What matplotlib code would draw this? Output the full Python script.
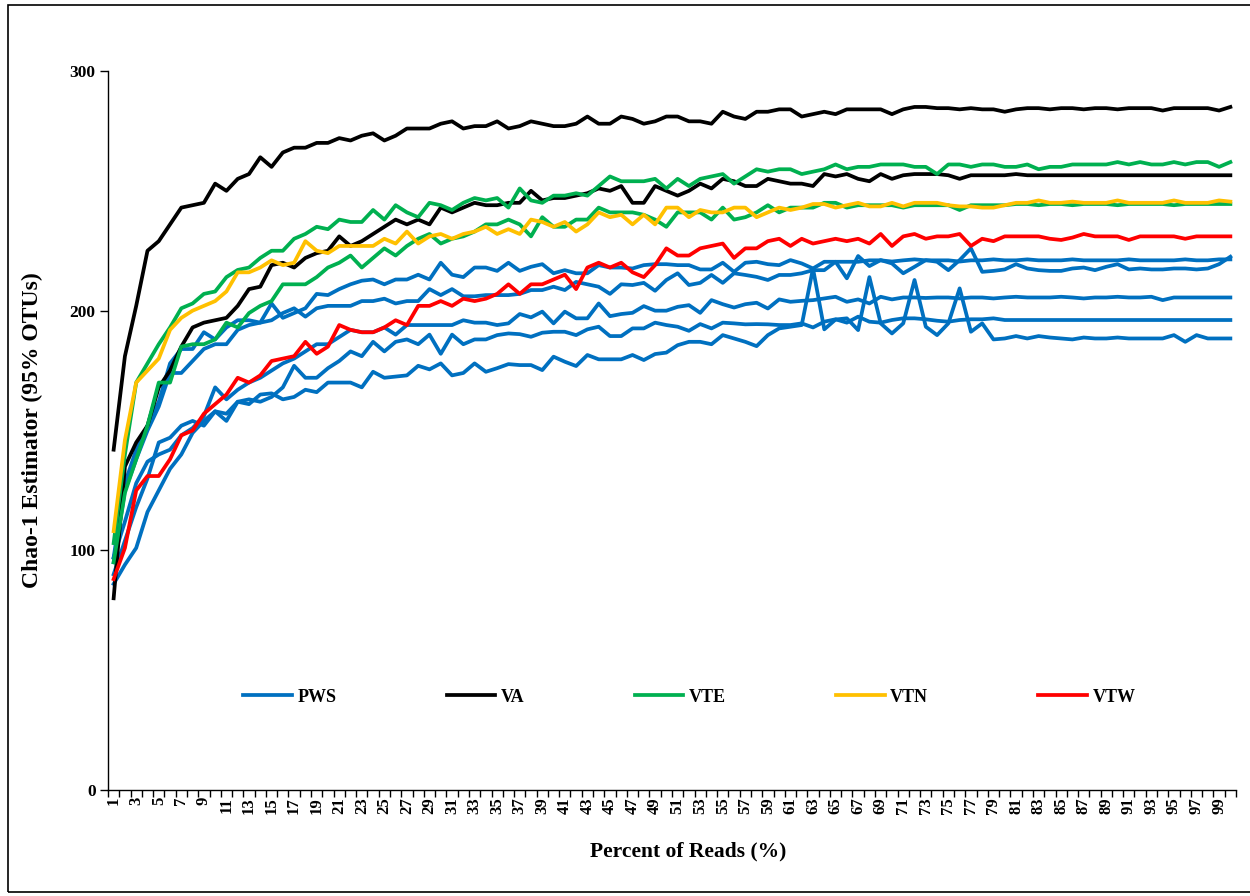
import matplotlib
matplotlib.use('Agg')
import matplotlib.pyplot as plt
import numpy as np
from matplotlib.patches import Rectangle

plt.rcParams['font.family'] = ['Liberation Serif', 'DejaVu Serif']
plt.rcParams['font.weight'] = 'bold'

# percent of reads (categories 1..100)
pct = list(range(1, 101))

# VA (black)
va_1 = [142, 181, 202, 225, 229, 236, 243, 244, 245, 253, 250, 255, 257, 264, 260, 266, 268, 268, 270, 270,
        272, 271, 273, 274, 271, 273, 276, 276, 276, 278, 279, 276, 277, 277, 279, 276, 277, 279, 278, 277,
        277, 278, 281, 278, 278, 281, 280, 278, 279, 281, 281, 279, 279, 278, 283, 281, 280, 283, 283, 284,
        284, 281, 282, 283, 282, 284, 284, 284, 284, 282, 284, 285, 285, 284.5, 284.5, 284, 284.5, 284, 284, 283,
        284, 284.5, 284.5, 284, 284.5, 284.5, 284, 284.5, 284.5, 284, 284.5, 284.5, 284.5, 283.5, 284.5, 284.5, 284.5, 284.5, 283.5, 285]
va_2 = [80, 135, 145, 152, 168, 175, 185, 193, 195, 196, 197, 202, 209, 210, 219, 220, 218, 222, 224, 225,
        231, 227, 229, 232, 235, 238, 236, 238, 236, 243, 241, 243, 245, 244, 244, 245, 245, 250, 246, 247,
        247, 248, 249, 251, 250, 252, 245, 245, 252, 250, 248, 250, 253, 251, 255, 254, 252, 252, 255, 254,
        253, 253, 252, 257, 256, 257, 255, 254, 257, 255, 256.5, 257, 257, 257, 256.5, 255, 256.5, 256.5, 256.5, 256.5,
        257, 256.5, 256.5, 256.5, 256.5, 256.5, 256.5, 256.5, 256.5, 256.5, 256.5, 256.5, 256.5, 256.5, 256.5, 256.5, 256.5, 256.5, 256.5, 256.5]

# VTE (green)
vte_1 = [103, 140, 170, 178, 186, 193, 201, 203, 207, 208, 214, 217, 218, 222, 225, 225, 230, 232, 235, 234,
         238, 237, 237, 242, 238, 244, 241, 239, 245, 244, 242, 245, 247, 246, 247, 243, 251, 246, 245, 248,
         248, 249, 248, 252, 256, 254, 254, 254, 255, 251, 255, 252, 255, 256, 257, 253, 256, 259, 258, 259,
         259, 257, 258, 259, 261, 259, 260, 260, 261, 261, 261, 260, 260, 257, 261, 261, 260, 261, 261, 260,
         260, 261, 259, 260, 260, 261, 261, 261, 261, 262, 261, 262, 261, 261, 262, 261, 262, 262, 260, 262]
vte_2 = [95, 124, 138, 152, 170, 170, 185, 186, 186, 188, 195, 193, 199, 202, 204, 211, 211, 211, 214, 218,
         220, 223, 218, 222, 226, 223, 227, 230, 232, 228, 230, 231, 233, 236, 236, 238, 236, 231, 239, 235,
         235, 238, 238, 243, 241, 241, 241, 240, 238, 235, 241, 241, 241, 238, 243, 238, 239, 241, 244, 241,
         243, 243, 243, 245, 245, 243, 244, 244, 244, 244, 243, 244, 244, 244, 244, 242, 244, 244, 244, 244,
         244.5, 244.5, 244, 244.5, 244.5, 244, 244.5, 244.5, 244.5, 244, 244.5, 244.5, 244.5, 244.5, 244, 244.5, 244.5, 244.5, 244.5, 244.5]

# VTN (yellow)
vtn_1 = [108, 146, 170, 175, 180, 192, 197, 200, 202, 204, 208, 216, 216, 218, 221, 219, 220, 229, 225, 224,
         227, 227, 227, 227, 230, 228, 233, 228, 231, 232, 230, 232, 233, 235, 232, 234, 232, 238, 237, 235,
         237, 233, 236, 241, 239, 240, 236, 240, 236, 243, 243, 239, 242, 241, 241, 243, 243, 239, 241, 243,
         242, 243, 244.5, 244.5, 243, 244, 245, 243.5, 243.5, 245, 243.5, 245, 245, 245, 244, 243.5, 243.5, 243, 243, 244,
         245, 245, 246, 245, 245, 245.5, 245, 245, 245, 246, 245, 245, 245, 245, 246, 245, 245, 245, 246, 245.5]

# VTW (red)
vtw_1 = [88, 101, 125, 131, 131, 138, 148, 150, 157, 161, 165, 172, 170, 173, 179, 180, 181, 187, 182, 185,
         194, 192, 191, 191, 193, 196, 194, 202, 202, 204, 202, 205, 204, 205, 207, 211, 207, 211, 211, 213,
         215, 209, 218, 220, 218, 220, 216, 214, 219, 226, 223, 223, 226, 227, 228, 222, 226, 226, 229, 230,
         227, 230, 228, 229, 230, 229, 230, 228, 232, 227, 231, 232, 230, 231, 231, 232, 227, 230, 229, 231,
         231, 231, 231, 230, 229.5, 230.5, 232, 231, 231, 231, 229.5, 231, 231, 231, 231, 230, 231, 231, 231, 231]

# PWS (blue)
pws_1 = [97, 128, 142, 152, 162, 178, 184, 184, 191, 188, 193, 196, 196, 195, 203, 197, 199, 201, 207, 206.5,
         209, 211, 212.5, 213, 211, 213, 213, 215, 213, 220, 215, 214, 218, 218, 216.6, 220, 216.6, 218.3, 219.4, 215.6,
         216.9, 215.6, 215.6, 219, 218, 218, 217.6, 219, 219.4, 219.4, 219, 219, 217.2, 217.2, 220, 216.2, 220, 220.4, 219.4, 219,
         221.1, 219.7, 217.6, 220.4, 220.4, 220.4, 220.4, 221, 221, 220.5, 221, 221.4, 221, 221, 221, 220.5, 221, 221, 221.4, 221,
         221, 221.4, 221, 221, 221, 221.4, 221, 221, 221, 221, 221.4, 221, 221, 221, 221, 221.4, 221, 221, 221.4, 221.4]
pws_2 = [95, 125, 138, 150, 160, 174, 174, 179, 184, 186, 186, 192, 194, 195, 196, 199, 201, 197.5, 201, 202,
         202, 202, 204, 204, 205, 203, 204, 204, 209, 206.5, 209, 206, 206, 206.5, 206.5, 206.5, 207, 208.6, 208.6, 210,
         208.6, 212, 211, 210, 207, 211, 210.7, 211.6, 208.3, 212.8, 215.6, 210.7, 211.6, 214.9, 211.6, 215.6, 214.9, 214.1, 212.8, 214.9,
         214.9, 215.6, 216.9, 216.9, 220.4, 213.5, 222.8, 218.6, 221.1, 219.7, 215.6, 218.3, 221.1, 220.4, 216.9, 221.1, 226, 216.2, 216.6, 217.2,
         219.4, 217.6, 216.9, 216.6, 216.6, 217.6, 218, 216.9, 218.3, 219.4, 217.2, 217.6, 217.2, 217.2, 217.6, 217.6, 217.2, 217.6, 219.4, 222.5]
pws_3 = [97, 112, 128, 137, 140, 142, 148, 151, 156, 168, 163, 167, 170, 172, 175, 178, 180, 183, 186, 186,
         189, 192, 191, 191, 193, 190, 194, 194, 194, 194, 194, 196, 195, 195, 194, 194.7, 198.6, 197.2, 199.6, 194.7,
         199.6, 196.8, 196.8, 203, 197.7, 198.6, 199.1, 201.9, 200, 200, 201.6, 202.3, 199.1, 204.4, 202.7, 201.3, 202.7, 203.3, 200.9, 204.7,
         203.7, 204.1, 204.4, 205.1, 205.8, 203.7, 204.7, 203, 205.8, 204.7, 205.5, 205.5, 205.3, 205.5, 205.5, 205.1, 205.5, 205.5, 205.1, 205.5,
         205.8, 205.5, 205.5, 205.5, 205.8, 205.5, 205.1, 205.5, 205.5, 205.8, 205.5, 205.5, 205.8, 204.4, 205.5, 205.5, 205.5, 205.5, 205.5, 205.5]
pws_4 = [90, 104, 118, 130, 145, 147, 152, 154, 152, 158, 154, 162, 163, 162, 164, 168, 177, 172, 172, 176,
         179, 183, 181, 187, 183, 187, 188, 186, 190, 182, 190, 186, 188, 188, 189.8, 190.5, 190.2, 189.1, 190.8, 191.2,
         191.2, 189.8, 192.2, 193.3, 189.4, 189.4, 192.6, 192.6, 195, 194, 193.3, 191.6, 194.4, 192.6, 195, 194.7, 194.3, 194.4, 194.3, 194,
         194, 194.7, 193, 195.4, 196.4, 195, 197.5, 195.4, 195, 196.1, 196.8, 196.8, 196.4, 195.8, 195.4, 196.1, 196.4, 196.4, 196.8, 196.1,
         196.1, 196.1, 196.1, 196.1, 196.1, 196.1, 196.1, 196.1, 196.1, 196.1, 196.1, 196.1, 196.1, 196.1, 196.1, 196.1, 196.1, 196.1, 196.1, 196.1]
pws_5 = [86, 94, 101, 116, 125, 134, 140, 149, 154, 158, 157, 162, 161, 165, 165.5, 163, 164, 167, 166, 170,
         170, 170, 168, 174.5, 172, 172.5, 173, 177, 175.5, 178, 173, 174, 178, 174.5, 176, 177.7, 177.3, 177.3, 175.2, 180.8,
         178.7, 176.9, 181.5, 179.7, 179.7, 179.7, 181.5, 179.4, 181.9, 182.5, 185.6, 187, 187, 186, 189.8, 188.4, 187, 185.2, 189.8, 192.6,
         193.3, 194, 217.6, 192.2, 196.3, 196.8, 191.9, 214, 194.7, 190.5, 194.7, 212.8, 193.3, 189.8, 194.7, 209.3, 191.2, 194.7, 188, 188.4,
         189.4, 188.4, 189.4, 188.8, 188.4, 188, 188.8, 188.4, 188.4, 188.8, 188.4, 188.4, 188.4, 188.4, 189.8, 187, 189.8, 188.4, 188.4, 188.4]

groups = [
    ('PWS', '#0070C0', [pws_1, pws_2, pws_3, pws_4, pws_5]),
    ('VA', '#000000', [va_1, va_2]),
    ('VTE', '#00B050', [vte_1, vte_2]),
    ('VTN', '#FFC000', [vtn_1]),
    ('VTW', '#FF0000', [vtw_1]),
]

fig = plt.figure(figsize=(12.5, 8.96), dpi=100)
ax = fig.add_axes([108/1250, 1 - 790/896, 1128/1250, 719/896])

for name, color, series in groups:
    for k, s in enumerate(series):
        ax.plot(pct, s, color=color, lw=2.7, solid_joinstyle='round',
                label=name if k == 0 else None)

ax.set_xlim(0.5, 100.5)
ax.set_ylim(0, 300)
ax.set_yticks([0, 100, 200, 300])
ax.tick_params(axis='y', direction='out', length=6, width=1, labelsize=12.5, pad=3)

# tick marks between categories, labels on every other category
ax.set_xticks(np.arange(0.5, 101, 1))
ax.set_xticklabels([])
ax.tick_params(axis='x', which='major', direction='out', length=5, width=1)
ax.set_xticks(pct[::2], [str(p) for p in pct[::2]], minor=True)
ax.tick_params(axis='x', which='minor', length=0, labelsize=12, labelrotation=90, pad=5)

for lab in ax.get_xticklabels(minor=True) + ax.get_yticklabels():
    lab.set_fontweight('bold')

ax.spines['top'].set_visible(False)
ax.spines['right'].set_visible(False)
ax.spines['left'].set_linewidth(1)
ax.spines['bottom'].set_linewidth(1)

ax.set_xlabel('Percent of Reads (%)', fontsize=15.5, fontweight='bold')
ax.xaxis.set_label_coords(0.514, -0.072)
ax.set_ylabel('Chao-1 Estimator (95% OTUs)', fontsize=17, fontweight='bold')
ax.yaxis.set_label_coords(-0.058, 0.5)

ax.legend(loc='center', bbox_to_anchor=(0.5155, 0.129), ncol=5, frameon=False,
          handlelength=2.7, handletextpad=0.3, columnspacing=6.1,
          prop={'weight': 'bold', 'size': 13})

fig.patches.append(Rectangle((0.006, 0.004), 1.1, 0.99, transform=fig.transFigure,
                             fill=False, edgecolor='black', lw=1.2))

fig.savefig('out.png', dpi=100)
